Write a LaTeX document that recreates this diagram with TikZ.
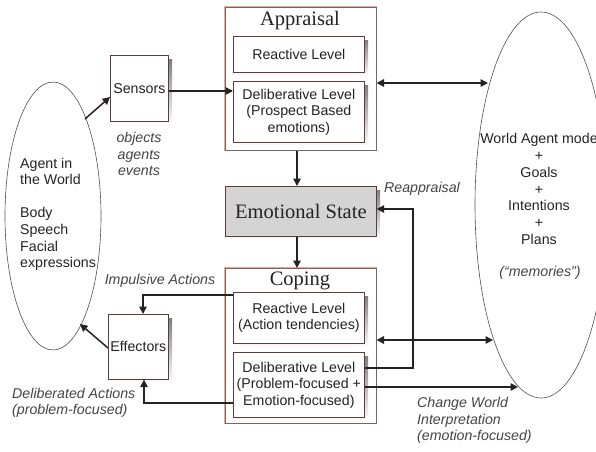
\documentclass[tikz,border=0pt]{standalone}
\usepackage{fontspec}
\setmainfont{Liberation Sans}
\newfontfamily\titlefont{Liberation Serif}
\usetikzlibrary{arrows.meta}
\definecolor{boxline}{RGB}{95,60,55}
\definecolor{halo}{RGB}{235,170,150}
\definecolor{shade}{RGB}{165,165,165}
\definecolor{esfill}{RGB}{212,212,212}
\definecolor{ink}{RGB}{35,35,35}
\begin{document}
\begin{tikzpicture}[x=1pt,y=-1pt,
  txt/.style={font=\fontsize{14.2}{16.5}\selectfont,text=ink,inner sep=0pt,align=center},
  itxt/.style={font=\fontsize{14.2}{16.5}\selectfont\itshape,text=ink!85,inner sep=0pt},
  inbox/.style={draw=boxline,line width=0.7pt,fill=white},
  conn/.style={draw=ink,line width=1.5pt,-{Triangle[length=7.5pt,width=7.5pt]}},
  conn2/.style={draw=ink,line width=1.5pt,{Triangle[length=7.5pt,width=7.5pt]}-{Triangle[length=7.5pt,width=7.5pt]}},
  ell/.style={draw=ink!80,line width=0.6pt}
]
\useasboundingbox (0,0) rectangle (596,451);
\begin{scope}
\clip (0,0) rectangle (596,451);
% ellipses
\draw[ell] (53,216) ellipse [x radius=48, y radius=134];
\draw[ell] (541,205) ellipse [x radius=66, y radius=193];
\end{scope}

% Sensors
\fill[shade] (114,59) rectangle (172,125);
\node[inbox,minimum width=58pt,minimum height=66pt,anchor=north west,inner sep=0pt] (sens) at (110,55) {};
\node[txt] at (sens.center) {Sensors};

% Effectors
\fill[shade] (112,318) rectangle (172,383);
\node[inbox,minimum width=60pt,minimum height=65pt,anchor=north west,inner sep=0pt] (eff) at (108,314) {};
\node[txt] at (eff.center) {Effectors};

% Appraisal
\draw[halo,line width=1.4pt] (225,7) rectangle (376,150);
\node[inbox,draw=boxline!80,line width=0.5pt,minimum width=151pt,minimum height=143pt,anchor=north west,inner sep=0pt] (app) at (225,7) {};
\node[font=\titlefont\fontsize{20.5}{22}\selectfont,text=ink,inner sep=0pt] at (300,21) {Appraisal};
\fill[shade] (237,40) rectangle (368,76);
\node[inbox,minimum width=131pt,minimum height=36pt,anchor=north west,inner sep=0pt] (appR) at (233,36) {};
\node[txt] at (appR.center) {Reactive Level};
\fill[shade] (237,85) rectangle (368,146);
\node[inbox,minimum width=131pt,minimum height=61pt,anchor=north west,inner sep=0pt] (appD) at (233,81) {};
\node[txt] at (appD.center) {Deliberative Level\\(Prospect Based\\emotions)};

% Emotional State
\fill[shade] (229,190) rectangle (380,240);
\node[inbox,fill=esfill,minimum width=151pt,minimum height=50pt,anchor=north west,inner sep=0pt] (es) at (225,186) {};
\node[font=\titlefont\fontsize{20.5}{22}\selectfont,text=ink,inner sep=0pt] at (es.center) {Emotional State};

% Coping
\draw[halo,line width=1.4pt] (225,268) rectangle (376,423);
\node[inbox,draw=boxline!80,line width=0.5pt,minimum width=151pt,minimum height=155pt,anchor=north west,inner sep=0pt] (cop) at (225,268) {};
\node[font=\titlefont\fontsize{20.5}{22}\selectfont,text=ink,inner sep=0pt] at (300,281) {Coping};
\fill[shade] (237,296) rectangle (368,347);
\node[inbox,minimum width=131pt,minimum height=51pt,anchor=north west,inner sep=0pt] (copR) at (233,292) {};
\node[txt] at (copR.center) {Reactive Level\\(Action tendencies)};
\fill[shade] (237,356) rectangle (368,421);
\node[inbox,minimum width=131pt,minimum height=65pt,anchor=north west,inner sep=0pt] (copD) at (233,352) {};
\node[txt] at (copD.center) {Deliberative Level\\(Problem-focused +\\Emotion-focused)};

% texts
\node[itxt,align=center] (oae) at (139,154) {objects\\agents\\events};
\node[txt,align=left,anchor=north west] (agw) at (20,158) {Agent in\\the World\\[16.5pt]Body\\Speech\\Facial\\expressions};
\node[txt,align=center,font=\fontsize{14.2}{16.8}\selectfont] (wam) at (539,189) {World Agent mode\\+\\Goals\\+\\Intentions\\+\\Plans};
\node[itxt] (mem) at (540,273) {(“memories”)};
\node[itxt] (reap) at (422,189) {Reappraisal};
\node[itxt] (imp) at (160,281) {Impulsive Actions};
\node[itxt,align=left,anchor=west] (dact) at (12,403) {Deliberated Actions\\(problem-focused)};
\node[itxt,align=left,anchor=north west] (cwi) at (417,397) {Change World\\Interpretation\\(emotion-focused)};

% connector end points
\coordinate (eL1) at (85,119);
\coordinate (eL2) at (80,324);
\coordinate (eR1) at (488,83);
\coordinate (eR2) at (493,340);
\coordinate (eR3) at (518,387);

% connectors
\draw[conn] (eL1) -- (sens.west |- 0,97) ;
\draw[conn] (sens.east |- 0,91) -- (appD.west |- 0,91);
\draw[conn2] (app.east |- eR1) -- (eR1);
\draw[conn] (app.south -| 297,0) -- (es.north -| 297,0);
\draw[conn] (es.south -| 297,0) -- (cop.north -| 297,0);
\draw[conn] (copD.east |- 0,368) -- (413,368) -- (413,209) -- (es.east |- 0,209);
\draw[conn2] (cop.east |- eR2) -- (eR2);
\draw[conn] (copD.east |- eR3) -- (eR3);
\draw[conn] (copR.west |- 0,295) -- (143,295) -- (eff.north -| 143,0);
\draw[conn] (copD.west |- 0,403) -- (144,403) -- (eff.south -| 144,0);
\draw[conn] (eff.west |- 0,348) -- (eL2);
\end{tikzpicture}
\end{document}
